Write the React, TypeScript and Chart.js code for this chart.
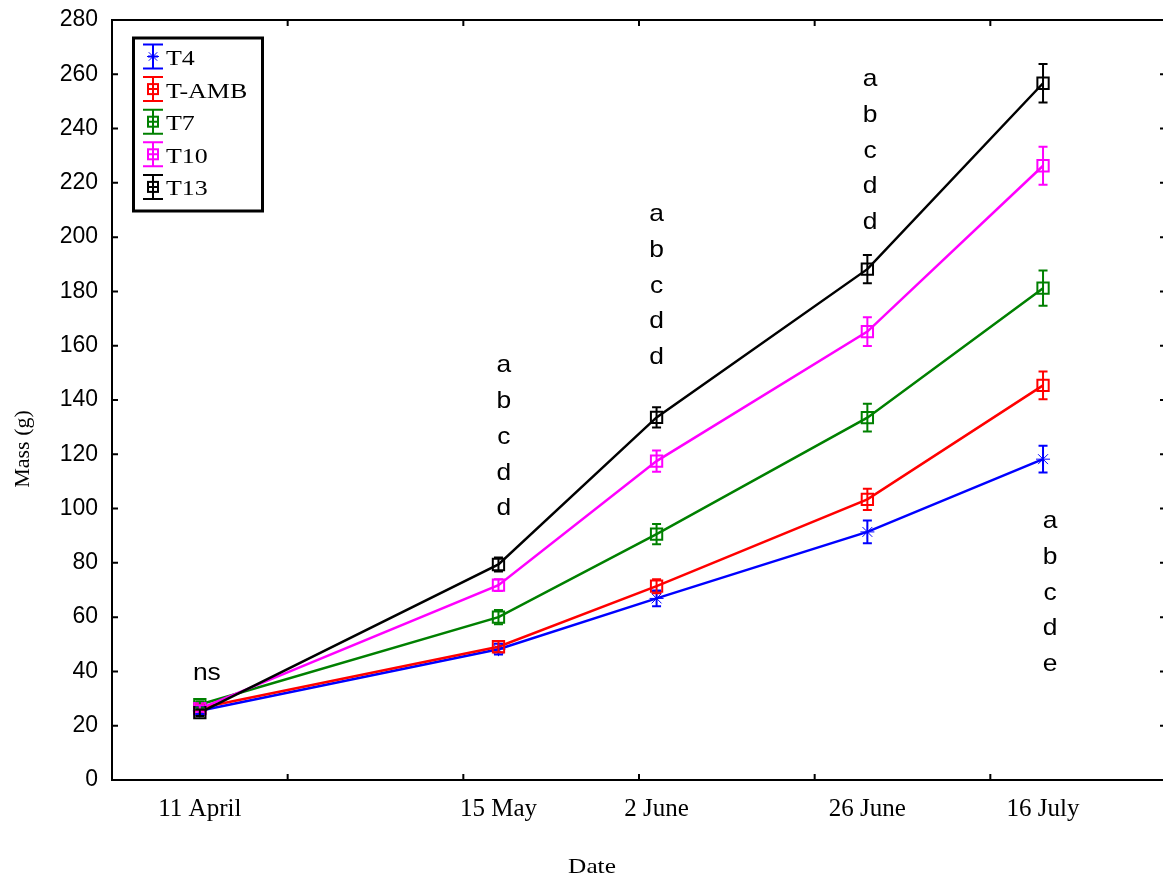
import React, { useEffect, useRef } from 'react';
import { Chart, registerables } from 'chart.js';

Chart.register(...registerables);

// ---- data ----
const dateLabels = ['11 April', '15 May', '2 June', '26 June', '16 July'];
const dayOffsets = [0, 34, 52, 76, 96]; // days after 11 April
const seriesNames = ['T4', 'T-AMB', 'T7', 'T10', 'T13'];
const seriesColors = ['#0000ff', '#ff0000', '#008000', '#ff00ff', '#000000'];

const t4Mean = [25.5, 48.2, 66.9, 91.4, 118.2];
const t4Err = [1.2, 2.0, 2.9, 4.2, 4.9];
const tAmbMean = [26.5, 49.1, 71.4, 103.4, 145.4];
const tAmbErr = [1.2, 2.0, 2.6, 3.9, 5.1];
const t7Mean = [27.8, 60.0, 90.6, 133.5, 181.2];
const t7Err = [1.2, 2.6, 3.7, 5.1, 6.5];
const t10Mean = [26.3, 71.8, 117.5, 165.2, 226.3];
const t10Err = [1.2, 2.2, 3.9, 5.3, 7.0];
const t13Mean = [24.8, 79.4, 133.6, 188.2, 256.7];
const t13Err = [1.2, 2.6, 3.75, 5.2, 7.1];

const yMin = 0;
const yMax = 280;
const yStep = 20;
const xMin = -10;
const xMax = 110;
const xTickMarkDays = [-10, 10, 30, 50, 70, 90, 110];

// significance letters: position (day, value of first letter baseline)
const letterDays = [0.8, 34.6, 52.0, 76.3, 96.8];
const letterTopValues = [36.8, 150.3, 206.0, 255.7, 92.9];
const letterGroups = [
  ['ns'],
  ['a', 'b', 'c', 'd', 'd'],
  ['a', 'b', 'c', 'd', 'd'],
  ['a', 'b', 'c', 'd', 'd'],
  ['a', 'b', 'c', 'd', 'e'],
];
const letterStepValue = 13.2;

const yTitle = 'Mass (g)';
const xTitle = 'Date';

const means = [t4Mean, tAmbMean, t7Mean, t10Mean, t13Mean];
const errs = [t4Err, tAmbErr, t7Err, t10Err, t13Err];

const SERIF = '"Liberation Serif", "Times New Roman", serif';
const SANS = '"Liberation Sans", Arial, sans-serif';

function drawStretchedText(ctx: CanvasRenderingContext2D, text: string, x: number, y: number, font: string, sx: number, align: CanvasTextAlign) {
  ctx.save();
  ctx.translate(x, y);
  ctx.scale(sx, 1);
  ctx.font = font;
  ctx.fillStyle = '#000';
  ctx.textAlign = align;
  ctx.textBaseline = 'alphabetic';
  ctx.fillText(text, 0, 0);
  ctx.restore();
}

function drawStar(ctx: CanvasRenderingContext2D, x: number, y: number, r: number) {
  const d = r * Math.SQRT1_2;
  ctx.beginPath();
  ctx.moveTo(x - r, y); ctx.lineTo(x + r, y);
  ctx.moveTo(x, y - r); ctx.lineTo(x, y + r);
  ctx.moveTo(x - d, y - d); ctx.lineTo(x + d, y + d);
  ctx.moveTo(x - d, y + d); ctx.lineTo(x + d, y - d);
  ctx.stroke();
}

const errorBarPlugin = {
  id: 'errorBars',
  afterDatasetsDraw(chart: any) {
    const ctx = chart.ctx as CanvasRenderingContext2D;
    const ys = chart.scales.y;
    chart.data.datasets.forEach((ds: any, i: number) => {
      const meta = chart.getDatasetMeta(i);
      ctx.save();
      ctx.strokeStyle = ds.borderColor;
      ctx.lineWidth = 2;
      meta.data.forEach((pt: any, j: number) => {
        const v = means[i][j];
        const e = errs[i][j];
        const top = ys.getPixelForValue(v + e);
        const bot = ys.getPixelForValue(v - e);
        const cw = 4.5;
        ctx.beginPath();
        ctx.moveTo(pt.x, top); ctx.lineTo(pt.x, bot);
        ctx.moveTo(pt.x - cw, top); ctx.lineTo(pt.x + cw, top);
        ctx.moveTo(pt.x - cw, bot); ctx.lineTo(pt.x + cw, bot);
        ctx.stroke();
      });
      ctx.restore();
    });
  },
};

const decorPlugin = {
  id: 'decor',
  afterDraw(chart: any) {
    const ctx = chart.ctx as CanvasRenderingContext2D;
    const { left, right, top, bottom } = chart.chartArea;
    const xs = chart.scales.x;
    const ys = chart.scales.y;

    ctx.save();
    // top and right frame
    ctx.strokeStyle = '#000';
    ctx.lineWidth = 2;
    ctx.beginPath();
    ctx.moveTo(left - 1, top); ctx.lineTo(right, top);
    ctx.moveTo(right, top); ctx.lineTo(right, bottom);
    ctx.stroke();

    // inward tick marks
    ctx.lineWidth = 2;
    ctx.beginPath();
    ys.ticks.forEach((t: any) => {
      const py = ys.getPixelForValue(t.value);
      ctx.moveTo(left, py); ctx.lineTo(left + 6, py);
      ctx.moveTo(right, py); ctx.lineTo(right - 6, py);
    });
    xTickMarkDays.forEach((d) => {
      const px = xs.getPixelForValue(d);
      ctx.moveTo(px, bottom); ctx.lineTo(px, bottom - 6);
      ctx.moveTo(px, top); ctx.lineTo(px, top + 6);
    });
    ctx.stroke();

    // significance letters
    letterGroups.forEach((group, gi) => {
      const px = xs.getPixelForValue(letterDays[gi]);
      group.forEach((letter, k) => {
        const py = ys.getPixelForValue(letterTopValues[gi] - k * letterStepValue);
        drawStretchedText(ctx, letter, px, py, `24px ${SANS}`, 1.1, 'center');
      });
    });

    // axis titles
    drawStretchedText(ctx, xTitle, 592, 873, `22px ${SERIF}`, 1.15, 'center');
    ctx.save();
    ctx.translate(29, 449);
    ctx.rotate(-Math.PI / 2);
    ctx.font = `22px ${SERIF}`;
    ctx.fillStyle = '#000';
    ctx.textAlign = 'center';
    ctx.textBaseline = 'alphabetic';
    ctx.fillText(yTitle, 0, 0);
    ctx.restore();

    // legend
    const bx = 133.5, by = 38, bw = 129, bh = 173;
    ctx.fillStyle = '#fff';
    ctx.fillRect(bx, by, bw, bh);
    ctx.strokeStyle = '#000';
    ctx.lineWidth = 3;
    ctx.strokeRect(bx, by, bw, bh);
    seriesNames.forEach((name, i) => {
      const cy = 56.5 + i * 32.6;
      const cx = 153;
      ctx.strokeStyle = seriesColors[i];
      ctx.lineWidth = 2;
      ctx.beginPath();
      ctx.moveTo(cx, cy - 12); ctx.lineTo(cx, cy + 12);
      ctx.moveTo(cx - 10, cy - 12); ctx.lineTo(cx + 10, cy - 12);
      ctx.moveTo(cx - 10, cy + 12); ctx.lineTo(cx + 10, cy + 12);
      ctx.moveTo(cx - 5, cy); ctx.lineTo(cx + 5, cy);
      ctx.stroke();
      if (i === 0) {
        ctx.lineWidth = 1;
        drawStar(ctx, cx, cy, 6);
      } else {
        ctx.lineWidth = 2;
        ctx.strokeRect(cx - 5, cy - 5, 10, 10);
      }
      drawStretchedText(ctx, name, 166, cy + 8.5, `22px ${SERIF}`, 1.18, 'left');
    });
    ctx.restore();
  },
};

export default function App() {
  const canvasRef = useRef<HTMLCanvasElement | null>(null);

  useEffect(() => {
    document.body.style.margin = '0';
    document.body.style.background = '#fff';
    const canvas = canvasRef.current;
    if (!canvas) return;

    const datasets = seriesNames.map((name, i) => ({
      label: name,
      data: dayOffsets.map((d, j) => ({ x: d, y: means[i][j] })),
      borderColor: seriesColors[i],
      backgroundColor: 'rgba(0,0,0,0)',
      borderWidth: 2.5,
      pointStyle: i === 0 ? 'star' : 'rect',
      pointRadius: i === 0 ? 7 : 8,
      pointBorderWidth: i === 0 ? 1 : 2,
      pointBorderColor: seriesColors[i],
      pointBackgroundColor: 'rgba(0,0,0,0)',
      fill: false,
      tension: 0,
      order: seriesNames.length - i,
    }));

    const chart = new Chart(canvas, {
      type: 'line',
      data: { datasets },
      plugins: [errorBarPlugin, decorPlugin],
      options: {
        responsive: false,
        animation: false,
        events: [],
        layout: { padding: { top: 20, right: 4, left: 0, bottom: 0 } },
        plugins: {
          legend: { display: false },
          tooltip: { enabled: false },
          title: { display: false },
        },
        scales: {
          x: {
            type: 'linear',
            min: xMin,
            max: xMax,
            afterBuildTicks: (scale: any) => {
              scale.ticks = dayOffsets.map((d) => ({ value: d }));
            },
            afterFit: (scale: any) => {
              scale.height = 98;
              scale.paddingLeft = 0;
              scale.paddingRight = 0;
              scale.paddingTop = 0;
              scale.paddingBottom = 0;
            },
            grid: { display: false, drawTicks: false },
            border: { display: true, color: '#000', width: 2 },
            ticks: {
              autoSkip: false,
              maxRotation: 0,
              minRotation: 0,
              padding: 14,
              color: '#000',
              font: { family: SERIF, size: 25 },
              callback: (_v: any, index: number) => dateLabels[index],
            },
          },
          y: {
            type: 'linear',
            min: yMin,
            max: yMax,
            afterFit: (scale: any) => {
              scale.width = 112;
              scale.paddingLeft = 0;
              scale.paddingRight = 0;
              scale.paddingTop = 0;
              scale.paddingBottom = 0;
            },
            grid: { display: false, drawTicks: false },
            border: { display: true, color: '#000', width: 2 },
            ticks: {
              stepSize: yStep,
              padding: 14,
              color: '#000',
              font: { family: SANS, size: 23 },
            },
          },
        },
      },
    } as any);

    return () => {
      chart.destroy();
    };
  }, []);

  return (
    <div style={{ position: 'absolute', left: 0, top: 0, width: 1163, height: 878, overflow: 'hidden', background: '#fff' }}>
      <canvas ref={canvasRef} width={1176} height={878} style={{ display: 'block' }} />
    </div>
  );
}
